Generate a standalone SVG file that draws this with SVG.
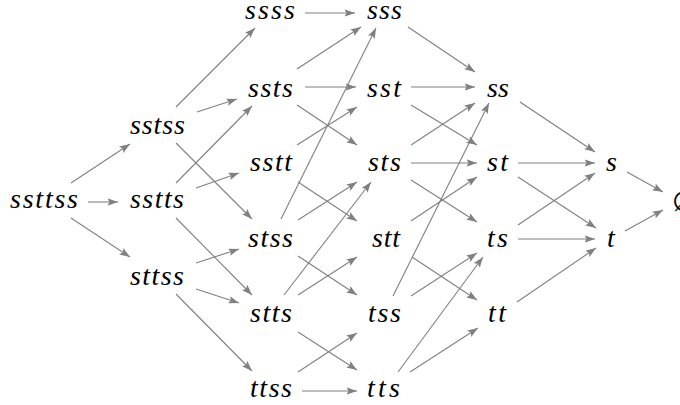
<svg xmlns="http://www.w3.org/2000/svg" width="680" height="405" viewBox="0 0 680 405">
<style>
text{font-family:"Liberation Serif","Times New Roman",serif;font-style:italic;font-size:28px;fill:#000}
text.e{font-style:normal}
#edges line{stroke:#808080;stroke-width:1.1;marker-end:url(#ah)}
</style>
<defs>
<marker id="ah" markerUnits="userSpaceOnUse" markerWidth="11" markerHeight="8" refX="10.5" refY="3.8" orient="auto">
<path d="M0,0 L10.5,3.8 L0,7.6 L2,3.8 z" fill="#808080"/>
</marker>
</defs>
<rect width="680" height="405" fill="#fff"/>
<g id="edges">
<line x1="71" y1="183" x2="130" y2="144"/>
<line x1="88" y1="202" x2="118" y2="202"/>
<line x1="71" y1="218" x2="130" y2="257"/>
<line x1="176" y1="107" x2="255" y2="28"/>
<line x1="197" y1="112" x2="237" y2="99"/>
<line x1="176" y1="143" x2="252" y2="219"/>
<line x1="176" y1="183" x2="252" y2="106"/>
<line x1="196" y1="188" x2="239" y2="173"/>
<line x1="176" y1="218" x2="252" y2="295"/>
<line x1="196" y1="263" x2="239" y2="249"/>
<line x1="196" y1="289" x2="239" y2="303"/>
<line x1="176" y1="294" x2="252" y2="371"/>
<line x1="305" y1="13" x2="355" y2="13"/>
<line x1="297" y1="69" x2="361" y2="27"/>
<line x1="305" y1="87" x2="356" y2="87"/>
<line x1="297" y1="105" x2="357" y2="145"/>
<line x1="297" y1="145" x2="357" y2="107"/>
<line x1="298" y1="182" x2="357" y2="221"/>
<line x1="281" y1="219" x2="376" y2="28"/>
<line x1="298" y1="220" x2="357" y2="182"/>
<line x1="298" y1="256" x2="357" y2="295"/>
<line x1="284" y1="295" x2="371" y2="182"/>
<line x1="298" y1="295" x2="357" y2="257"/>
<line x1="298" y1="332" x2="357" y2="370"/>
<line x1="298" y1="372" x2="357" y2="333"/>
<line x1="302" y1="391" x2="357" y2="391"/>
<line x1="408" y1="27" x2="475" y2="72"/>
<line x1="411" y1="87" x2="475" y2="87"/>
<line x1="411" y1="105" x2="477" y2="145"/>
<line x1="411" y1="145" x2="475" y2="103"/>
<line x1="411" y1="163" x2="477" y2="163"/>
<line x1="411" y1="180" x2="477" y2="222"/>
<line x1="411" y1="221" x2="477" y2="177"/>
<line x1="412" y1="257" x2="477" y2="300"/>
<line x1="393" y1="296" x2="489" y2="103"/>
<line x1="411" y1="296" x2="477" y2="253"/>
<line x1="398" y1="372" x2="483" y2="257"/>
<line x1="410" y1="372" x2="478" y2="328"/>
<line x1="520" y1="102" x2="595" y2="152"/>
<line x1="518" y1="163" x2="595" y2="163"/>
<line x1="518" y1="177" x2="596" y2="228"/>
<line x1="518" y1="225" x2="595" y2="173"/>
<line x1="518" y1="239" x2="595" y2="239"/>
<line x1="517" y1="302" x2="596" y2="248"/>
<line x1="627" y1="172" x2="663" y2="192"/>
<line x1="625" y1="231" x2="663" y2="210"/>
</g>
<g id="n-ssttss"><text x="10" y="208" textLength="68" lengthAdjust="spacing">ssttss</text></g>
<g id="n-sstss"><text x="130" y="134" textLength="55" lengthAdjust="spacing">sstss</text></g>
<g id="n-sstts"><text x="130" y="208" textLength="54" lengthAdjust="spacing">sstts</text></g>
<g id="n-sttss"><text x="130" y="285" textLength="54" lengthAdjust="spacing">sttss</text></g>
<g id="n-ssss"><text x="245" y="19" textLength="50" lengthAdjust="spacing">ssss</text></g>
<g id="n-ssts"><text x="248" y="97" textLength="45" lengthAdjust="spacing">ssts</text></g>
<g id="n-sstt"><text x="250" y="171" textLength="42" lengthAdjust="spacing">sstt</text></g>
<g id="n-stss"><text x="248" y="247" textLength="45" lengthAdjust="spacing">stss</text></g>
<g id="n-stts"><text x="250" y="322" textLength="42" lengthAdjust="spacing">stts</text></g>
<g id="n-ttss"><text x="250" y="397" textLength="42" lengthAdjust="spacing">ttss</text></g>
<g id="n-sss"><text x="367" y="19" textLength="35" lengthAdjust="spacing">sss</text></g>
<g id="n-sst"><text x="367" y="97" textLength="34" lengthAdjust="spacing">sst</text></g>
<g id="n-sts"><text x="368" y="171" textLength="33" lengthAdjust="spacing">sts</text></g>
<g id="n-stt"><text x="372" y="247" textLength="28" lengthAdjust="spacing">stt</text></g>
<g id="n-tss"><text x="368" y="322" textLength="33" lengthAdjust="spacing">tss</text></g>
<g id="n-tts"><text x="367" y="397" textLength="33" lengthAdjust="spacing">tts</text></g>
<g id="n-ss"><text x="487" y="97" textLength="22" lengthAdjust="spacing">ss</text></g>
<g id="n-st"><text x="487" y="171" textLength="21" lengthAdjust="spacing">st</text></g>
<g id="n-ts"><text x="487" y="247" textLength="21" lengthAdjust="spacing">ts</text></g>
<g id="n-tt"><text x="488" y="322" textLength="18" lengthAdjust="spacing">tt</text></g>
<g id="n-s"><text x="606" y="171">s</text></g>
<g id="n-t"><text x="607" y="247">t</text></g>
<g id="n-empty"><text class="e" x="672" y="211">∅</text></g>
</svg>
